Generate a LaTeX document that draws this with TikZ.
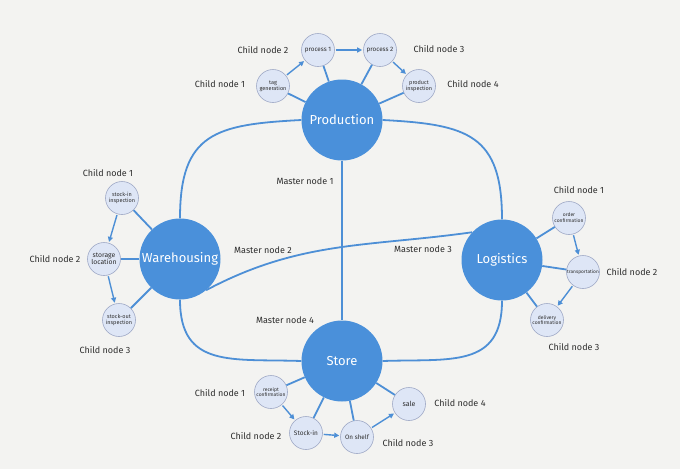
\documentclass[tikz,border=0pt]{standalone}
\usepackage{fontspec}
\setmainfont{Fira Sans}
\usetikzlibrary{arrows.meta}
\definecolor{masterblue}{HTML}{4A90DA}
\definecolor{linkblue}{HTML}{4D8FD6}
\definecolor{childfill}{HTML}{DEE6F6}
\definecolor{childline}{HTML}{9FA9C6}
\definecolor{paper}{HTML}{F3F3F1}
\definecolor{inktext}{HTML}{2E2E2E}
\begin{document}
\begin{tikzpicture}[x=1pt, y=-1pt,
    masternode/.style={circle, fill=masterblue, minimum size=81pt, inner sep=0pt, text=white, font=\fontsize{13}{14}\selectfont},
    childnode/.style={circle, draw=childline, line width=0.6pt, fill=childfill, minimum size=33pt, inner sep=0pt, align=center, text=inktext, font=\fontsize{5.5}{6}\selectfont},
    childlabel/.style={text=inktext, font=\fontsize{9}{10}\selectfont},
    link/.style={linkblue, line width=1.8pt},
    flow/.style={linkblue, line width=1.4pt, -{Triangle[length=5pt,width=5pt]}, shorten <=1pt, shorten >=1pt}]
  \fill[paper] (0,0) rectangle (680,469); % Paper background
  \useasboundingbox (0,0) rectangle (680,469);

  % Master nodes
  \node[masternode] (P) at (342,120) {Production};
  \node[masternode] (W) at (180,259) {Warehousing};
  \node[masternode] (L) at (502,260) {Logistics};
  \node[masternode] (S) at (342,361) {Store};

  % Production children
  \node[childnode] (tag) at (273,86) {tag\\generation};
  \node[childnode, font=\fontsize{6.3}{7}\selectfont] (proc1) at (318,50) {process 1};
  \node[childnode, font=\fontsize{6.3}{7}\selectfont] (proc2) at (380,50) {process 2};
  \node[childnode] (insp) at (419,86) {product\\inspection};

  % Warehousing children
  \node[childnode] (stin) at (122,198) {stock-in\\inspection};
  \node[childnode, font=\fontsize{6.8}{7.5}\selectfont] (stor) at (104,259) {storage\\location};
  \node[childnode] (stout) at (119,320) {stock-out\\inspection};

  % Logistics children
  \node[childnode, font=\fontsize{5}{5.8}\selectfont] (order) at (569,218) {order\\confirmation};
  \node[childnode, font=\fontsize{4.8}{5.5}\selectfont] (trans) at (583,272) {transportation};
  \node[childnode, font=\fontsize{5}{5.8}\selectfont] (deliv) at (547,320) {delivery\\confirmation};

  % Store children
  \node[childnode, font=\fontsize{5}{5.8}\selectfont] (rcpt) at (271,392) {receipt\\confirmation};
  \node[childnode, font=\fontsize{6.5}{7}\selectfont] (stockin) at (306,433) {Stock-in};
  \node[childnode, font=\fontsize{6.3}{7}\selectfont] (shelf) at (357,437) {On shelf};
  \node[childnode, font=\fontsize{7}{8}\selectfont] (sale) at (409,404) {sale};

  % Master connectors
  \draw[link] (P) -- (S);
  \draw[link] (P.west) to[out=183, in=90, looseness=1.4] (W.north);
  \draw[link] (P.east) to[out=-3, in=90, looseness=1.4] (L.north);
  \draw[link] (W.south) to[out=-90, in=178, looseness=1.3] (S.west);
  \draw[link] (L.south) to[out=-90, in=2, looseness=1.3] (S.east);
  \draw[link] (W.-50) to[out=28, in=188] (L.137);

  % Master to child
  \foreach \c in {tag,proc1,proc2,insp} \draw[link] (P) -- (\c);
  \foreach \c in {stin,stor,stout} \draw[link] (W) -- (\c);
  \foreach \c in {order,trans,deliv} \draw[link] (L) -- (\c);
  \foreach \c in {rcpt,stockin,shelf,sale} \draw[link] (S) -- (\c);

  % Child flows
  \draw[flow] (tag) -- (proc1);
  \draw[flow] (proc1) -- (proc2);
  \draw[flow] (proc2) -- (insp);
  \draw[flow] (stin) -- (stor);
  \draw[flow] (stor) -- (stout);
  \draw[flow] (order) -- (trans);
  \draw[flow] (trans) -- (deliv);
  \draw[flow] (rcpt) -- (stockin);
  \draw[flow] (stockin) -- (shelf);
  \draw[flow] (shelf) -- (sale);

  % Labels
  \node[childlabel] (mn1) at (305,181) {Master node 1};
  \node[childlabel] (mn2) at (263,250) {Master node 2};
  \node[childlabel] (mn3) at (423,249) {Master node 3};
  \node[childlabel] (mn4) at (285,320) {Master node 4};

  \node[childlabel] (pc1) at (220,84) {Child node 1};
  \node[childlabel] (pc2) at (263,50) {Child node 2};
  \node[childlabel] (pc3) at (439,49) {Child node 3};
  \node[childlabel] (pc4) at (473,84) {Child node 4};

  \node[childlabel] (wc1) at (108,173) {Child node 1};
  \node[childlabel] (wc2) at (55,259) {Child node 2};
  \node[childlabel] (wc3) at (105,350) {Child node 3};

  \node[childlabel] (lc1) at (579,190) {Child node 1};
  \node[childlabel] (lc2) at (632,272) {Child node 2};
  \node[childlabel] (lc3) at (574,347) {Child node 3};

  \node[childlabel] (sc1) at (220,393) {Child node 1};
  \node[childlabel] (sc2) at (256,436) {Child node 2};
  \node[childlabel] (sc3) at (408,443) {Child node 3};
  \node[childlabel] (sc4) at (460,403) {Child node 4};
\end{tikzpicture}
\end{document}
